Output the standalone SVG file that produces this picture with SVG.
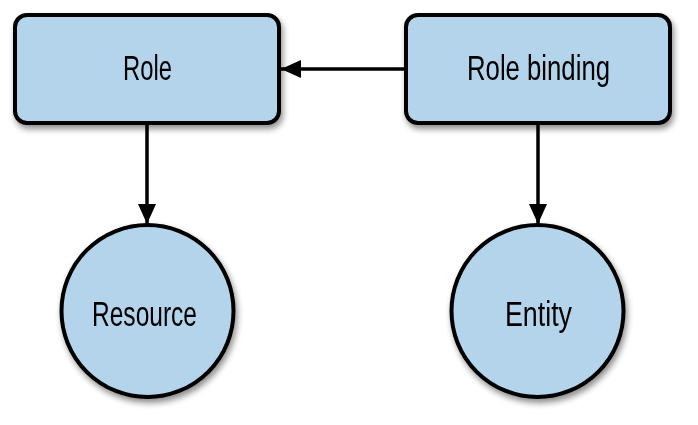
<svg xmlns="http://www.w3.org/2000/svg" width="698" height="425" viewBox="0 0 698 425">
<style>
.node{fill:#b3d4ea;stroke:#000;stroke-width:4}
.lbl{font-family:"Liberation Sans",Arial,sans-serif;font-size:35px;fill:#000;text-anchor:middle}
.edge{stroke:#000;stroke-width:3.5;fill:none}
</style>
<defs>
<filter id="sh" x="-20%" y="-20%" width="140%" height="150%">
<feGaussianBlur in="SourceAlpha" stdDeviation="3"/>
<feOffset dx="2" dy="4" result="b"/>
<feComponentTransfer><feFuncA type="linear" slope="0.45"/></feComponentTransfer>
<feMerge><feMergeNode/><feMergeNode in="SourceGraphic"/></feMerge>
</filter>
<marker id="ah" viewBox="0 0 20 18" refX="20" refY="9" markerWidth="20" markerHeight="18" markerUnits="userSpaceOnUse" orient="auto">
<path d="M0,0 L20,9 L0,18 Z" fill="#000"/>
</marker>
</defs>
<g id="connectors">
<line class="edge" x1="405" y1="69" x2="281" y2="69" marker-end="url(#ah)"/>
<line class="edge" x1="147" y1="124" x2="147" y2="224" marker-end="url(#ah)"/>
<line class="edge" x1="538" y1="124" x2="538" y2="224" marker-end="url(#ah)"/>
</g>
<g id="role" filter="url(#sh)">
<rect class="node" x="15" y="15" width="264" height="108" rx="12"/>
<text class="lbl" x="147.5" y="80" textLength="49" lengthAdjust="spacingAndGlyphs">Role</text>
</g>
<g id="rolebinding" filter="url(#sh)">
<rect class="node" x="406" y="15" width="264" height="108" rx="12"/>
<text class="lbl" x="538.5" y="80" textLength="143" lengthAdjust="spacingAndGlyphs">Role binding</text>
</g>
<g id="resource" filter="url(#sh)">
<circle class="node" cx="147.5" cy="311" r="86"/>
<text class="lbl" x="144.5" y="326" textLength="105" lengthAdjust="spacingAndGlyphs">Resource</text>
</g>
<g id="entity" filter="url(#sh)">
<circle class="node" cx="537.5" cy="311" r="86"/>
<text class="lbl" x="538.5" y="326" textLength="67" lengthAdjust="spacingAndGlyphs">Entity</text>
</g>
</svg>
